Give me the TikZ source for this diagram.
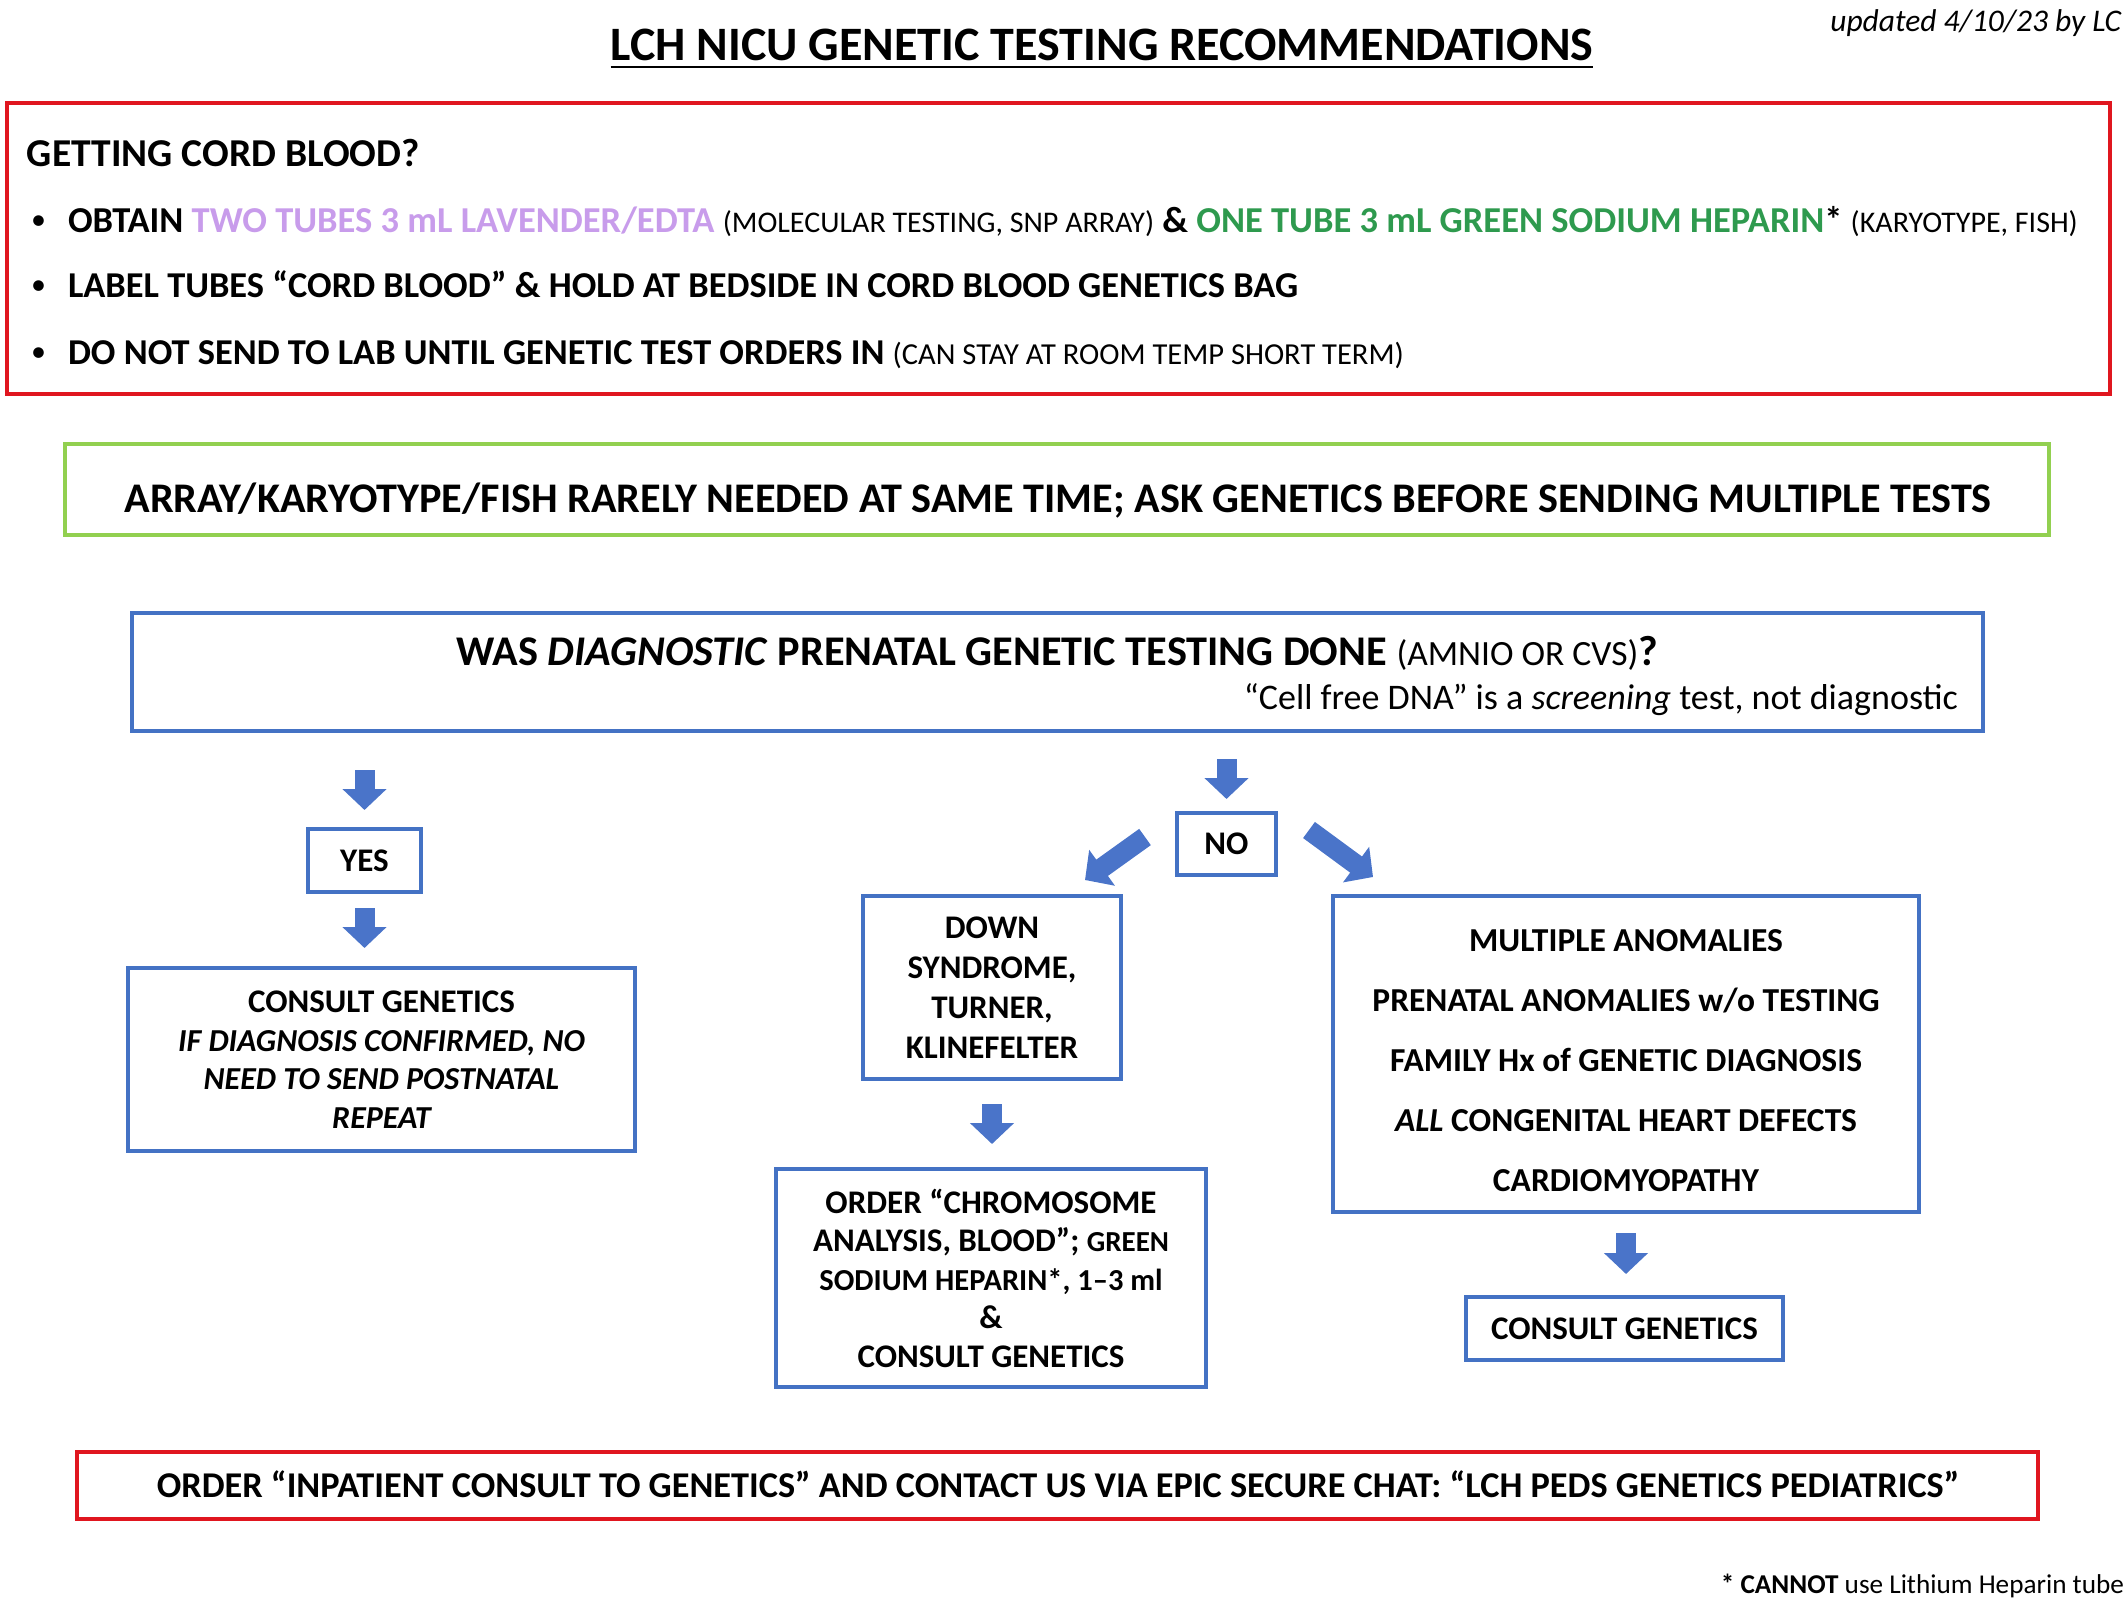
\documentclass[tikz,border=0pt]{standalone}
\usepackage{fontspec}
\setmainfont{Carlito}
\usetikzlibrary{arrows.meta,calc}
\definecolor{boxred}{HTML}{E0161F}
\definecolor{boxgreen}{HTML}{92D050}
\definecolor{boxblue}{HTML}{4472C4}
\definecolor{arrowblue}{HTML}{4A74C9}
\definecolor{lav}{HTML}{C89CEB}
\definecolor{grn}{HTML}{2E9A4E}
\newcommand\fsz[2]{\fontsize{#1}{#2}\selectfont}
\begin{document}
\begin{tikzpicture}[x=1pt,y=-1pt,
  redbox/.style={draw=boxred, line width=4pt, inner sep=0pt},
  greenbox/.style={draw=boxgreen, line width=4pt, inner sep=0pt},
  bluebox/.style={draw=boxblue, line width=4pt, inner sep=0pt, align=center, font=\fsz{33}{39}\bfseries},
  barrow/.style={draw=arrowblue, line width=20pt, -{Triangle[length=21pt,width=43pt]}},
  txt/.style={inner sep=0pt, outer sep=0pt}]
\useasboundingbox (0,0) rectangle (2128,1600);

% title
\node[txt, anchor=base, font=\fsz{48}{56}\bfseries] (title) at (1102,61) {LCH NICU GENETIC TESTING RECOMMENDATIONS};
\draw[line width=2.5pt] ($(title.base west)+(0,6)$) -- ($(title.base east)+(0,6)$);
\node[txt, anchor=base east, font=\fsz{31.5}{36}\itshape] (upd) at (2121,32) {updated 4/10/23 by LC};

% red cord blood box
\node[redbox, minimum width=2103pt, minimum height=291pt] (cord) at (1058.5,248.5) {};
\node[txt, anchor=base west, font=\fsz{39.5}{46}\bfseries] (cordh) at (27,167) {GETTING CORD BLOOD?};
\node[txt, anchor=base west, font=\fsz{30}{36}] (b1) at (31,229) {•};
\node[txt, anchor=base west, font=\fsz{30}{36}] (b2) at (31,294) {•};
\node[txt, anchor=base west, font=\fsz{30}{36}] (b3) at (31,361) {•};
\node[txt, anchor=base west, font=\fsz{36.5}{44}\bfseries] (l1) at (68,232)
 {OBTAIN {\color{lav}TWO TUBES 3 mL LAVENDER/EDTA} {\mdseries\fsz{30}{34}(MOLECULAR TESTING, SNP ARRAY)} \& {\color{grn}ONE TUBE 3 mL GREEN SODIUM HEPARIN}* {\mdseries\fsz{30}{34}(KARYOTYPE, FISH)}};
\node[txt, anchor=base west, font=\fsz{36.4}{44}\bfseries] (l2) at (68,297)
 {LABEL TUBES “CORD BLOOD” \& HOLD AT BEDSIDE IN CORD BLOOD GENETICS BAG};
\node[txt, anchor=base west, font=\fsz{36.4}{44}\bfseries] (l3) at (68,364)
 {DO NOT SEND TO LAB UNTIL GENETIC TEST ORDERS IN {\mdseries\fsz{30.5}{34}(CAN STAY AT ROOM TEMP SHORT TERM)}};

% green box
\node[greenbox, minimum width=1984pt, minimum height=91pt] (gbox) at (1057,489.5) {};
\node[txt, anchor=base, font=\fsz{42.2}{48}\bfseries] (gtxt) at (1058,512)
 {ARRAY/KARYOTYPE/FISH RARELY NEEDED AT SAME TIME; ASK GENETICS BEFORE SENDING MULTIPLE TESTS};

% question box
\node[bluebox, minimum width=1851pt, minimum height=118pt] (q) at (1057.5,672) {};
\node[txt, anchor=base, font=\fsz{42.3}{48}\bfseries] (qtxt) at (1057,665)
 {WAS \textit{DIAGNOSTIC} PRENATAL GENETIC TESTING DONE {\mdseries\fsz{35.5}{40}(AMNIO OR CVS)}?};
\node[txt, anchor=base east, font=\fsz{36}{42}] (qnote) at (1958,709)
 {“Cell free DNA” is a \textit{screening} test, not diagnostic};

% flow boxes
\node[bluebox, minimum width=113pt, minimum height=63pt] (yes) at (364.5,860.5) {YES};
\node[bluebox, minimum width=507pt, minimum height=183pt, font=\fsz{33}{38.5}\bfseries] (cons1) at (381.5,1059.5)
 {CONSULT GENETICS\\ {\fsz{32}{38.5}\itshape IF DIAGNOSIS CONFIRMED, NO}\\ {\fsz{32}{38.5}\itshape NEED TO SEND POSTNATAL}\\ {\fsz{32}{38.5}\itshape REPEAT}};
\node[bluebox, minimum width=99pt, minimum height=62pt] (no) at (1226.5,844) {NO};
\node[bluebox, minimum width=258pt, minimum height=183pt, font=\fsz{33}{40}\bfseries] (down) at (992,987.5)
 {DOWN\\ SYNDROME,\\ TURNER,\\ KLINEFELTER};
\node[bluebox, minimum width=430pt, minimum height=218pt, font=\fsz{33}{38.5}\bfseries] (order) at (991,1278)
 {ORDER “CHROMOSOME\\ ANALYSIS, BLOOD”; {\fsz{29}{38.5}GREEN}\\ {\fsz{30.5}{38.5}SODIUM HEPARIN*, 1–3 ml}\\ \&\\ CONSULT GENETICS};
\node[bluebox, minimum width=586pt, minimum height=316pt] (multi) at (1626,1054) {};
\node[txt, align=center, font=\fsz{33.5}{60}\bfseries] (multitxt) at (1626,1061)
 {MULTIPLE ANOMALIES\\ PRENATAL ANOMALIES w/o TESTING\\ FAMILY Hx of GENETIC DIAGNOSIS\\ \textit{ALL} CONGENITAL HEART DEFECTS\\ CARDIOMYOPATHY};
\node[bluebox, minimum width=317pt, minimum height=63pt] (cons2) at (1624.5,1328.5) {CONSULT GENETICS};

% arrows
\draw[barrow] ($(yes.north |- q.south)+(0,37)$) -- ($(yes.north)+(0,-17)$);
\draw[barrow] ($(yes.south)+(0,14)$) -- ($(yes.south |- cons1.north)+(0,-18)$);
\draw[barrow] ($(no.north |- q.south)+(0,26)$) -- ($(no.north)+(0,-12)$);
\draw[barrow] ($(no.west)+(-30,-7)$) -- ($(down.north east)+(-38,-14)$);
\draw[barrow] ($(no.east)+(31,-14)$) -- ($(multi.north west)+(42,-17)$);
\draw[barrow] ($(down.south)+(0,23)$) -- ($(down.south |- order.north)+(0,-23)$);
\draw[barrow] ($(multi.south)+(0,19)$) -- ($(multi.south |- cons2.north)+(0,-21)$);

% bottom red box
\node[redbox, minimum width=1961pt, minimum height=67pt] (bot) at (1057.5,1485.5) {};
\node[txt, anchor=base, font=\fsz{36.3}{42}\bfseries] (bottxt) at (1058,1497)
 {ORDER “INPATIENT CONSULT TO GENETICS” AND CONTACT US VIA EPIC SECURE CHAT: “LCH PEDS GENETICS PEDIATRICS”};

% footnote
\node[txt, anchor=base east, font=\fsz{27.2}{32}] (foot) at (2124,1593) {\textbf{* CANNOT} use Lithium Heparin tube};
\end{tikzpicture}
\end{document}
